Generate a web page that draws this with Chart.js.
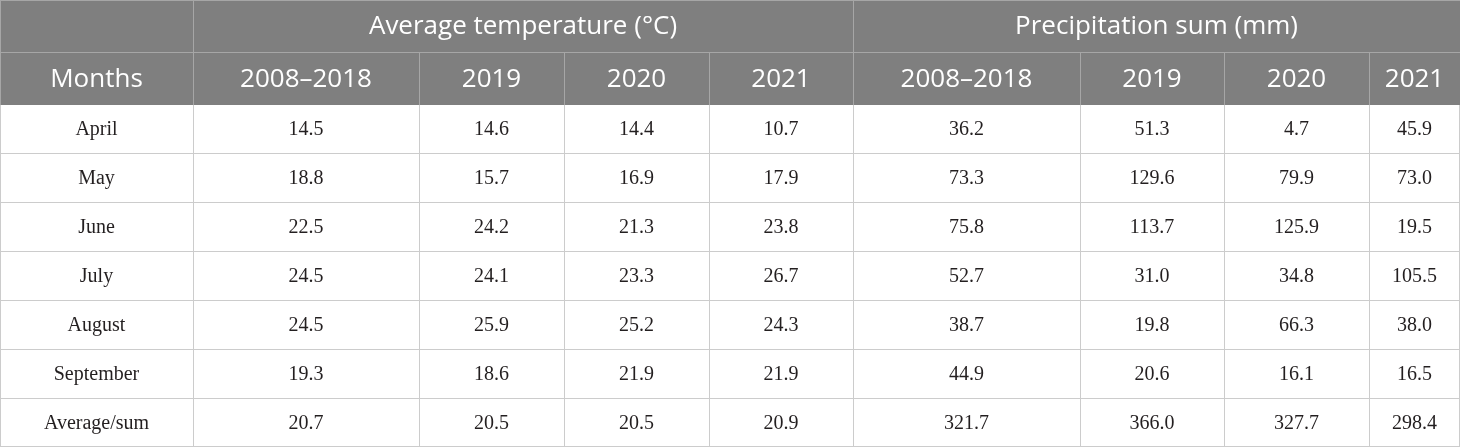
<!DOCTYPE html>
<html>
<head>
<meta charset="utf-8">
<script src="https://cdn.jsdelivr.net/npm/chart.js@4/dist/chart.umd.min.js"></script>
<style>
  html, body { margin: 0; padding: 0; background: #fff; }
  #wrap { width: 1460px; height: 447px; position: relative; }
</style>
</head>
<body>
<div id="wrap"><canvas id="climateTable"></canvas></div>
<script>
// Data
const groupLabels = ['Average temperature (°C)', 'Precipitation sum (mm)'];
const periodLabels = ['2008–2018', '2019', '2020', '2021'];
const months = ['April', 'May', 'June', 'July', 'August', 'September', 'Average/sum'];

const temp2008_2018 = [14.5, 18.8, 22.5, 24.5, 24.5, 19.3, 20.7];
const temp2019 = [14.6, 15.7, 24.2, 24.1, 25.9, 18.6, 20.5];
const temp2020 = [14.4, 16.9, 21.3, 23.3, 25.2, 21.9, 20.5];
const temp2021 = [10.7, 17.9, 23.8, 26.7, 24.3, 21.9, 20.9];

const prec2008_2018 = [36.2, 73.3, 75.8, 52.7, 38.7, 44.9, 321.7];
const prec2019 = [51.3, 129.6, 113.7, 31.0, 19.8, 20.6, 366.0];
const prec2020 = [4.7, 79.9, 125.9, 34.8, 66.3, 16.1, 327.7];
const prec2021 = [45.9, 73.0, 19.5, 105.5, 38.0, 16.5, 298.4];

const series = [temp2008_2018, temp2019, temp2020, temp2021,
                prec2008_2018, prec2019, prec2020, prec2021];

// Layout (in scale units, scales span the whole canvas)
const colEdges = [0, 193, 419, 564, 709, 853, 1080, 1224, 1369, 1460];
const rowEdges = [0, 52, 105, 153, 202, 251, 300, 349, 398, 447];
const HEADER_BG = '#7f7f7f';
const HEADER_LINE = '#a6a6a6';
const GRID_LINE = '#cccccc';
const HEADER_FONT = '26px "Open Sans"';
const BODY_FONT = '20px "Liberation Serif"';

const tablePlugin = {
    id: 'tableDraw',
    afterDraw(chart) {
        const { ctx, scales: { x, y } } = chart;
        const px = v => Math.round(x.getPixelForValue(v));
        const py = v => Math.round(y.getPixelForValue(v));

        ctx.save();

        // header background
        ctx.fillStyle = HEADER_BG;
        ctx.fillRect(px(0), py(0), px(1460) - px(0), py(rowEdges[2]) - py(0));

        const hline = (x0, x1, yv, color) => {
            ctx.strokeStyle = color;
            ctx.lineWidth = 1;
            ctx.beginPath();
            ctx.moveTo(px(x0), py(yv) + 0.5);
            ctx.lineTo(px(x1), py(yv) + 0.5);
            ctx.stroke();
        };
        const vline = (xv, y0, y1, color) => {
            ctx.strokeStyle = color;
            ctx.lineWidth = 1;
            ctx.beginPath();
            ctx.moveTo(px(xv) + 0.5, py(y0));
            ctx.lineTo(px(xv) + 0.5, py(y1));
            ctx.stroke();
        };

        // header lines
        hline(0, 1460, 0, HEADER_LINE);
        hline(0, 1460, rowEdges[1], HEADER_LINE);
        vline(0, 0, rowEdges[2], HEADER_LINE);
        vline(colEdges[1], 0, rowEdges[2], HEADER_LINE);
        vline(colEdges[5], 0, rowEdges[2], HEADER_LINE);
        for (let c = 2; c < colEdges.length - 1; c++) {
            if (c !== 5) vline(colEdges[c], rowEdges[1], rowEdges[2], HEADER_LINE);
        }

        // body grid
        for (let r = 3; r < rowEdges.length; r++) {
            const yv = r === rowEdges.length - 1 ? rowEdges[r] - 1 : rowEdges[r];
            hline(0, 1460, yv, GRID_LINE);
        }
        for (let c = 0; c < colEdges.length; c++) {
            const xv = c === colEdges.length - 1 ? colEdges[c] - 1 : colEdges[c];
            vline(xv, rowEdges[2], 447, GRID_LINE);
        }

        const centerX = (a, b) => (x.getPixelForValue(a) + x.getPixelForValue(b)) / 2;
        const centerY = (a, b) => (y.getPixelForValue(a) + y.getPixelForValue(b)) / 2;

        ctx.textAlign = 'center';
        ctx.textBaseline = 'middle';

        // header text
        ctx.fillStyle = '#ffffff';
        ctx.font = HEADER_FONT;
        ctx.fillText(groupLabels[0], centerX(colEdges[1], colEdges[5]), centerY(rowEdges[0], rowEdges[1]) + 1);
        ctx.fillText(groupLabels[1], centerX(colEdges[5], colEdges[9]), centerY(rowEdges[0], rowEdges[1]) + 1);
        ctx.fillText('Months', centerX(colEdges[0], colEdges[1]), centerY(rowEdges[1], rowEdges[2]) + 1);
        for (let c = 0; c < 8; c++) {
            ctx.fillText(periodLabels[c % 4], centerX(colEdges[c + 1], colEdges[c + 2]), centerY(rowEdges[1], rowEdges[2]) + 1);
        }

        // body text
        ctx.fillStyle = '#231f20';
        ctx.font = BODY_FONT;
        months.forEach((m, r) => {
            const cy = centerY(rowEdges[r + 2], rowEdges[r + 3]) + 1;
            ctx.fillText(m, centerX(colEdges[0], colEdges[1]), cy);
            series.forEach((vals, c) => {
                ctx.fillText(vals[r].toFixed(1), centerX(colEdges[c + 1], colEdges[c + 2]), cy);
            });
        });

        ctx.restore();
    }
};

new Chart(document.getElementById('climateTable'), {
    type: 'scatter',
    data: { datasets: [{ data: [] }] },
    options: {
        responsive: true,
        maintainAspectRatio: false,
        animation: false,
        layout: { padding: 0 },
        plugins: { legend: { display: false }, tooltip: { enabled: false } },
        scales: {
            x: { type: 'linear', min: 0, max: 1460, display: false },
            y: { type: 'linear', min: 0, max: 447, reverse: true, display: false }
        }
    },
    plugins: [tablePlugin]
});
</script>
</body>
</html>
